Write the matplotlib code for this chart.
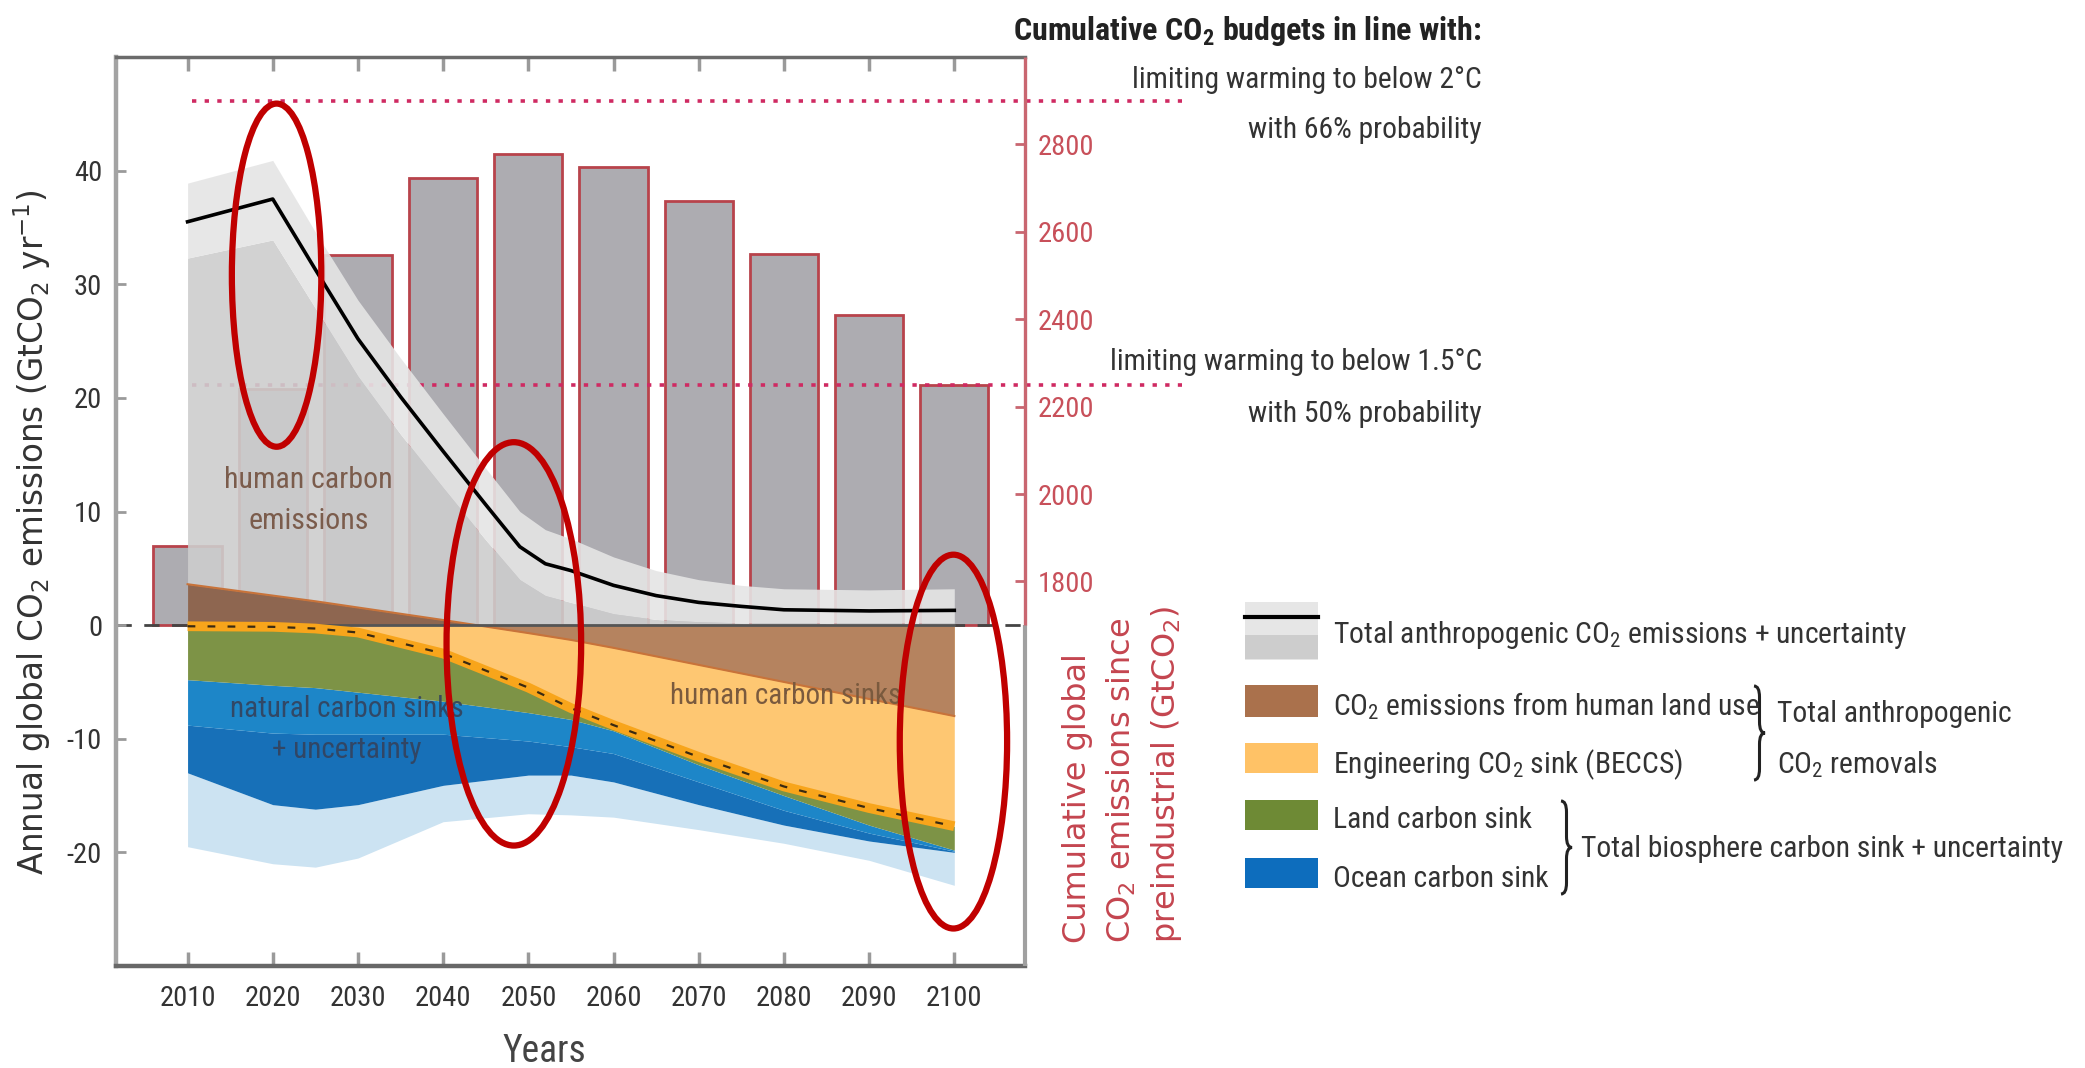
import numpy as np
import matplotlib
matplotlib.use('Agg')
import matplotlib.pyplot as plt
from matplotlib import font_manager as fm
from matplotlib.patches import Ellipse, Rectangle, PathPatch
from matplotlib.path import Path


def pick_font(names):
    for n in names:
        try:
            fm.findfont(fm.FontProperties(family=n), fallback_to_default=False)
            return n
        except ValueError:
            continue
    return 'DejaVu Sans'


NARROW = pick_font(['Liberation Sans Narrow', 'Roboto Condensed', 'Liberation Sans'])
plt.rcParams['font.family'] = [NARROW, 'DejaVu Sans']
plt.rcParams['axes.unicode_minus'] = False

# total anthropogenic emissions (GtCO2/yr) + uncertainty band
years = [2010, 2020, 2025, 2030, 2035, 2040, 2045, 2049, 2052, 2055, 2060, 2065, 2070, 2075, 2080, 2090, 2100]
total = [35.5, 37.5, 31.3, 25.2, 20.1, 15.3, 10.6, 6.9, 5.4, 4.8, 3.5, 2.6, 2.0, 1.65, 1.35, 1.25, 1.3]
total_hi = [38.9, 40.9, 34.6, 28.6, 23.5, 18.6, 13.8, 10.0, 8.4, 7.6, 6.0, 4.8, 4.0, 3.5, 3.2, 3.1, 3.2]
total_lo = [32.3, 33.9, 27.9, 21.9, 16.8, 12.1, 7.5, 4.0, 2.6, 2.0, 1.0, 0.5, 0.3, 0.2, 0.2, 0.2, 0.2]

# land use, removals and natural sinks (GtCO2/yr)
sink_years = [2010, 2020, 2025, 2030, 2040, 2050, 2055, 2060, 2070, 2080, 2090, 2100]
land_use = [3.6, 2.6, 2.1, 1.55, 0.45, -0.7, -1.3, -2.0, -3.5, -5.0, -6.5, -8.0]
removals = [-0.1, -0.15, -0.3, -0.65, -2.5, -5.5, -7.3, -8.8, -11.6, -14.2, -16.1, -17.7]
land_sink_base = [-4.8, -5.3, -5.5, -5.9, -6.7, -7.7, -8.3, -9.3, -12.3, -15.0, -17.6, -19.8]
ocean_mid = [-8.8, -9.5, -9.6, -9.6, -9.6, -10.2, -10.7, -11.3, -13.8, -16.3, -18.3, -19.9]
ocean_base = [-13.0, -15.8, -16.2, -15.8, -14.1, -13.2, -13.2, -13.8, -15.8, -17.6, -19.0, -20.0]
sink_lo = [-19.5, -21.0, -21.3, -20.5, -17.3, -16.6, -16.7, -16.9, -18.0, -19.2, -20.7, -22.9]

# cumulative emissions since preindustrial (GtCO2), right axis
bar_years = [2010, 2020, 2030, 2040, 2050, 2060, 2070, 2080, 2090, 2100]
cumulative = [1880, 2240, 2546, 2722, 2777, 2749, 2670, 2550, 2409, 2249]
budget_levels = [2900, 2250]

# highlight ellipses: centre year, centre value, width (yr), height
highlights = [(2020.45, 30.8, 10.5, 30.2), (2048.3, -1.65, 15.8, 35.5), (2099.9, -10.25, 12.6, 32.9)]

W, H = 2085, 1068
fig = plt.figure(figsize=(W / 100, H / 100), dpi=100)
L, R, T, B = 116, 1025, 57, 966
ax = fig.add_axes([L / W, 1 - B / H, (R - L) / W, (B - T) / H])
ax2 = ax.twinx()
ax.set_zorder(ax2.get_zorder() + 1)
ax.patch.set_visible(False)

ylim = (-30, 50)
right_at_zero, scale = 1700, 26
ax.set_xlim(2001.6, 2108.3)
ax.set_ylim(*ylim)
ax2.set_ylim(right_at_zero + scale * ylim[0], right_at_zero + scale * ylim[1])

# bars + budget lines (behind everything)
cum = np.array(cumulative)
ax2.bar(bar_years, cum - right_at_zero, bottom=right_at_zero, width=8,
        color='#adacb1', edgecolor='#b8434b', linewidth=2, zorder=2)
ax2.hlines(budget_levels, 2010.5, 2126.7, colors='#cf2a62', linewidth=2.6,
           linestyles=[(0, (1.2, 2.3))], zorder=3, clip_on=False)

# zero line
ax.axhline(0, color='#444444', lw=2, dashes=(5.5, 4.5), zorder=1)

# emissions
ax.fill_between(years, 0, total_lo, color='#cdcdcd', alpha=0.9, lw=0, zorder=3)
ax.fill_between(years, total_lo, total_hi, color='#e5e5e5', alpha=0.9, lw=0, zorder=3)

# sinks
lu = np.array(land_use)
ax.fill_between(sink_years, sink_lo, ocean_base, color='#cce3f2', lw=0, zorder=3.2)
ax.fill_between(sink_years, ocean_base, ocean_mid, color='#1770b8', lw=0, zorder=3.2)
ax.fill_between(sink_years, ocean_mid, land_sink_base, color='#1d86c8', lw=0, zorder=3.2)
ax.fill_between(sink_years, land_sink_base, removals, color='#7d9346', lw=0, zorder=3.3)
ax.fill_between(sink_years, 0, removals, color='#fec772', lw=0, zorder=3.5)
ax.fill_between(sink_years, 0, lu, where=lu >= 0, interpolate=True, color='#8e6650', lw=0, zorder=4)
ax.fill_between(sink_years, lu, 0, where=lu <= 0, interpolate=True, color='#b5835f', lw=0, zorder=4)
ax.plot(sink_years, land_use, color='#c8733a', lw=1.5, zorder=4.2)
ax.plot(sink_years, np.zeros(len(sink_years)), color='#555555', lw=2, zorder=4.5)
ax.plot(sink_years, removals, color='#f8a51b', lw=7, zorder=5, solid_capstyle='butt')
ax.plot(sink_years, removals, color='#3a2a12', lw=1.6, dashes=(3.5, 5.5), zorder=5.1)

ax.plot(years, total, color='black', lw=2.6, zorder=6)

# labels inside the plot
ax.text(2024.2, 11.0, 'human carbon\nemissions', ha='center', va='center', fontsize=21.5,
        color='#7b5c4c', linespacing=1.6, zorder=7)
ax.text(2028.7, -9.2, 'natural carbon sinks\n+ uncertainty', ha='center', va='center', fontsize=21,
        color='#34425c', alpha=0.9, linespacing=1.6, zorder=7)
ax.text(2080.2, -6.2, 'human carbon sinks', ha='center', va='center', fontsize=21,
        color='#7a5a3e', zorder=7)

for (ex, ey, ew, eh) in highlights:
    ax.add_patch(Ellipse((ex, ey), ew, eh, fill=False, ec='#c00000', lw=4.5, zorder=10, clip_on=False))

# axes styling
ax.spines['right'].set_visible(False)
for s in ax2.spines.values():
    s.set_visible(False)
ax.spines['left'].set_color('#a3a3a3')
ax.spines['left'].set_linewidth(3.2)
ax.spines['bottom'].set_color('#686868')
ax.spines['bottom'].set_linewidth(3.2)
ax.spines['top'].set_color('#6b6b6b')
ax.spines['top'].set_linewidth(2.5)
f0 = (0 - ylim[0]) / (ylim[1] - ylim[0])
ax.plot([1, 1], [0, f0], transform=ax.transAxes, color='#a0a0a0', lw=3, clip_on=False,
        zorder=20, solid_capstyle='butt')
ax.plot([1, 1], [f0, 1], transform=ax.transAxes, color='#c96670', lw=2.4, clip_on=False,
        zorder=20, solid_capstyle='butt')

ax.set_xticks(range(2010, 2101, 10))
ax.set_yticks(range(-20, 41, 10))
ax2.set_yticks(range(1800, 2801, 200))
ax.tick_params(axis='x', direction='in', length=10, width=2.5, color='#9a9a9a', top=True,
               labelsize=20.5, labelcolor='#333333', pad=14)
ax.tick_params(axis='y', direction='in', length=7, width=2, color='#9a9a9a', right=False,
               labelsize=20.5, labelcolor='#333333', pad=10)
ax2.tick_params(axis='y', direction='in', length=7, width=2, color='#c96670',
                labelsize=20.5, labelcolor='#c8505a', pad=9)

ax.set_ylabel('Annual global CO$_2$ emissions (GtCO$_2$ yr$^{-1}$)', fontsize=23.5,
              family='DejaVu Sans', color='#333333')
ax.yaxis.set_label_coords(-0.069, 0.477)

# overlay in pixel coordinates for the outside texts and legend
ov = fig.add_axes([0, 0, 1, 1], zorder=30)
ov.set_xlim(0, W)
ov.set_ylim(H, 0)
ov.axis('off')

ov.text(544, 1051, 'Years', ha='center', va='center', fontsize=27, color='#444444')
ov.text(1123, 943, 'Cumulative global\nCO$_2$ emissions since\npreindustrial (GtCO$_2$)',
        rotation=90, rotation_mode='anchor', ha='left', va='center', multialignment='left',
        fontsize=23, family='DejaVu Sans', color='#c4454f', linespacing=1.45)

sub2 = '$\\mathregular{_2}$'
fs = 21.3
ov.text(1482, 40, 'Cumulative CO' + sub2 + ' budgets in line with:', ha='right', va='baseline',
        fontsize=23, fontweight='bold', color='#222222')
ov.text(1482, 88, 'limiting warming to below 2°C', ha='right', va='baseline', fontsize=fs, color='#333333')
ov.text(1482, 138, 'with 66% probability', ha='right', va='baseline', fontsize=fs, color='#333333')
ov.text(1482, 370, 'limiting warming to below 1.5°C', ha='right', va='baseline', fontsize=fs, color='#333333')
ov.text(1482, 422, 'with 50% probability', ha='right', va='baseline', fontsize=fs, color='#333333')

# legend
sx, sw = 1245, 73
ov.add_patch(Rectangle((sx, 602), sw, 58, color='#e6e6e6', lw=0))
ov.add_patch(Rectangle((sx, 635), sw, 24, color='#cdcdcd', lw=0))
ov.plot([sx, sx + sw], [617, 617], color='black', lw=3)
swatches = [(685, 717, '#aa714c'), (743, 773, '#ffc266'), (800, 830, '#6e8a35'), (858, 888, '#0d6dbd')]
for y0, y1, c in swatches:
    ov.add_patch(Rectangle((sx, y0), sw, y1 - y0, color=c, lw=0))

tx = 1333
ov.text(tx, 643, 'Total anthropogenic CO' + sub2 + ' emissions + uncertainty', va='baseline', fontsize=fs, color='#333333')
ov.text(tx, 715, 'CO' + sub2 + ' emissions from human land use', va='baseline', fontsize=fs, color='#333333')
ov.text(tx, 773, 'Engineering CO' + sub2 + ' sink (BECCS)', va='baseline', fontsize=fs, color='#333333')
ov.text(tx, 828, 'Land carbon sink', va='baseline', fontsize=fs, color='#333333')
ov.text(tx, 887, 'Ocean carbon sink', va='baseline', fontsize=fs, color='#333333')
ov.text(1777, 722, 'Total anthropogenic', va='baseline', fontsize=fs, color='#333333')
ov.text(1777, 773, 'CO' + sub2 + ' removals', va='baseline', fontsize=fs, color='#333333')
ov.text(1581, 857, 'Total biosphere carbon sink + uncertainty', va='baseline', fontsize=fs, color='#333333')


def brace(axo, x, y0, y1, w=11):
    ym = (y0 + y1) / 2
    q = min(w, (y1 - y0) / 6)
    xm = x + w / 2
    verts = [(x, y0), (xm, y0), (xm, y0 + q), (xm, ym - q), (xm, ym), (x + w, ym),
             (xm, ym), (xm, ym + q), (xm, y1 - q), (xm, y1), (x, y1)]
    codes = [Path.MOVETO, Path.CURVE3, Path.CURVE3, Path.LINETO, Path.CURVE3, Path.CURVE3,
             Path.CURVE3, Path.CURVE3, Path.LINETO, Path.CURVE3, Path.CURVE3]
    axo.add_patch(PathPatch(Path(verts, codes), fill=False, ec='#222222', lw=2.2))


brace(ov, 1754, 686, 780)
brace(ov, 1561, 801, 894)

fig.savefig('out.png', dpi=100)
